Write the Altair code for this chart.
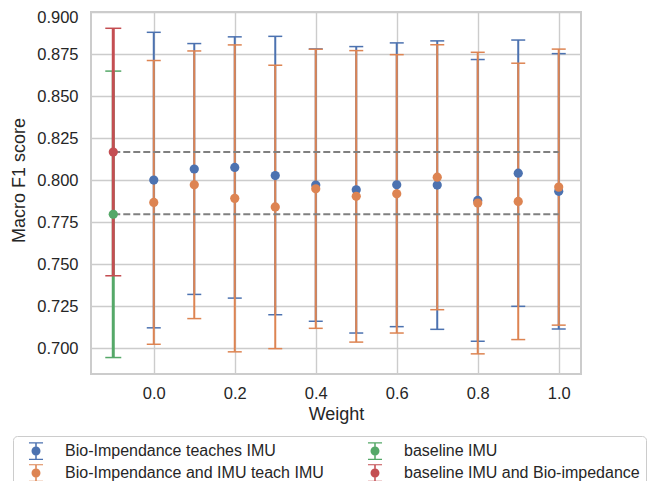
import altair as alt
import pandas as pd

# ---- data ----
weights = [0.0, 0.1, 0.2, 0.3, 0.4, 0.5, 0.6, 0.7, 0.8, 0.9, 1.0]
bio_teaches_mean = [0.8001, 0.8067, 0.8076, 0.8028, 0.7971, 0.7943, 0.7973, 0.7971, 0.7880, 0.8042, 0.7934]
bio_teaches_std = [0.0880, 0.0747, 0.0778, 0.0829, 0.0811, 0.0853, 0.0845, 0.0859, 0.0839, 0.0793, 0.0820]
both_teach_mean = [0.7868, 0.7973, 0.7892, 0.7841, 0.7949, 0.7904, 0.7919, 0.8018, 0.7864, 0.7874, 0.7959]
both_teach_std = [0.0845, 0.0797, 0.0914, 0.0844, 0.0831, 0.0868, 0.0829, 0.0789, 0.0898, 0.0823, 0.0822]

baseline_weight = [-0.1]
baseline_imu_mean = [0.7797]
baseline_imu_std = [0.0853]
baseline_both_mean = [0.8168]
baseline_both_std = [0.0737]

dash_start = [-0.1]
dash_end = [1.0]

name_bio = "Bio-Impendance teaches IMU"
name_both = "Bio-Impendance and IMU teach IMU"
name_base_imu = "baseline IMU"
name_base_both = "baseline IMU and Bio-impedance"

legend_order = [name_bio, name_both, name_base_imu, name_base_both]
legend_colors = ["#4C72B0", "#DD8452", "#55A868", "#C44E52"]

x_ticks = [0.0, 0.2, 0.4, 0.6, 0.8, 1.0]
y_ticks = [0.700, 0.725, 0.750, 0.775, 0.800, 0.825, 0.850, 0.875, 0.900]

# ---- build table ----
rows = []
def add(name, ws, ms, ss):
    for w, m, s in zip(ws, ms, ss):
        rows.append({"series": name, "weight": w, "mean": m, "lo": m - s, "hi": m + s})

add(name_base_imu, baseline_weight, baseline_imu_mean, baseline_imu_std)
add(name_base_both, baseline_weight, baseline_both_mean, baseline_both_std)
add(name_bio, weights, bio_teaches_mean, bio_teaches_std)
add(name_both, weights, both_teach_mean, both_teach_std)
df = pd.DataFrame(rows)

dash_df = pd.DataFrame({
    "x0": dash_start * 2,
    "x1": dash_end * 2,
    "y": baseline_both_mean + baseline_imu_mean,
})

color_of = dict(zip(legend_order, legend_colors))
draw = [
    (name_base_imu, 3, 16),
    (name_base_both, 3, 16),
    (name_bio, 2, 14),
    (name_both, 2, 14),
]

FONT = "Liberation Sans"
TXT = "#262626"

xscale = alt.Scale(domain=[-0.155, 1.055], nice=False, zero=False)
yscale = alt.Scale(domain=[0.6846, 0.9002], nice=False, zero=False)
xaxis = alt.Axis(values=x_ticks, format=".1f", title="Weight", labelPadding=11, titlePadding=4)
yaxis = alt.Axis(
    values=y_ticks, format=".3f", title="Macro F1 score", labelPadding=13, titlePadding=8,
    titleY=168,
    labelOffset={"condition": {"test": "datum.value >= 0.899", "value": 5}, "value": 0},
)

def X(f="weight"):
    return alt.X(f + ":Q", scale=xscale, axis=xaxis)

def Y(f):
    return alt.Y(f + ":Q", scale=yscale, axis=yaxis)

layers = []
for name, lw, cap in draw:
    sub = df[df["series"] == name]
    col = color_of[name]
    base = alt.Chart(sub)
    layers.append(base.mark_rule(color=col, strokeWidth=lw).encode(x=X(), y=Y("lo"), y2="hi:Q"))
    layers.append(base.mark_tick(orient="horizontal", color=col, size=cap, thickness=1.5, opacity=1).encode(x=X(), y=Y("hi")))
    layers.append(base.mark_tick(orient="horizontal", color=col, size=cap, thickness=1.5, opacity=1).encode(x=X(), y=Y("lo")))

layers.append(
    alt.Chart(dash_df).mark_rule(color="#808080", strokeWidth=2, strokeDash=[7, 3]).encode(
        x=X("x0"), x2="x1:Q", y=Y("y")
    )
)

sym = ("M-0.78,-0.98H0.78V-0.85H-0.78Z "
       "M-0.085,-0.92H0.085V0.92H-0.085Z "
       "M-0.78,0.85H0.78V0.98H-0.78Z "
       "M-0.5,0A0.5,0.5 0 1,1 0.5,0A0.5,0.5 0 1,1 -0.5,0Z")

layers.append(
    alt.Chart(df).mark_circle(size=85, opacity=1).encode(
        x=X(),
        y=Y("mean"),
        color=alt.Color(
            "series:N",
            scale=alt.Scale(domain=legend_order, range=legend_colors),
            legend=alt.Legend(
                title=None,
                orient="none",
                legendX=-78,
                legendY=424,
                columns=2,
                symbolType=sym,
                symbolSize=324,
                symbolStrokeWidth=0,
                symbolOpacity=1,
                symbolOffset=8,
                labelFontSize=16,
                labelFont=FONT,
                labelColor=TXT,
                labelOffset=20,
                columnPadding=34,
                rowPadding=4,
                padding=6,
                strokeColor="#cccccc",
                fillColor="white",
                cornerRadius=4,
                labelLimit=400,
            ),
        ),
    )
)

chart = alt.layer(*layers).properties(
    width=490,
    height=362,
    autosize=alt.AutoSizeParams(type="none"),
    padding={"left": 83, "top": 4, "right": 66, "bottom": 107},
    background="white",
).configure_view(
    stroke="#cccccc", strokeWidth=2
).configure_axis(
    labelFontSize=16.5,
    titleFontSize=18,
    labelFont=FONT,
    titleFont=FONT,
    labelColor=TXT,
    titleColor=TXT,
    titleFontWeight="normal",
    domain=False,
    ticks=False,
    grid=True,
    gridColor="#cccccc",
    gridWidth=1.4,
)

chart.save("out.html", embed_options={"renderer": "svg", "actions": False})
